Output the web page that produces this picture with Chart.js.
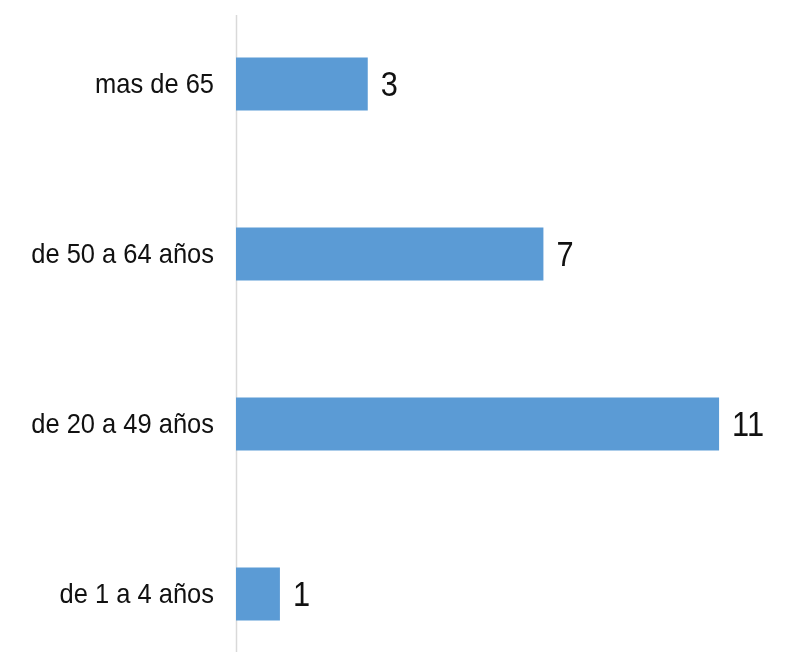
<!DOCTYPE html>
<html>
<head>
<meta charset="utf-8">
<script src="https://cdn.jsdelivr.net/npm/chart.js@4/dist/chart.umd.min.js"></script>
<style>
html,body{margin:0;padding:0;background:#fff;overflow:hidden;width:795px;height:652px;}
#c{position:absolute;left:0;top:-1px;}
</style>
</head>
<body>
<canvas id="c" width="795" height="680"></canvas>
<script>
const categories = ["mas de 65", "de 50 a 64 años", "de 20 a 49 años", "de 1 a 4 años"];
const values = [3, 7, 11, 1];
const axisMax = 12;

const FONT = "'Liberation Sans', Arial, sans-serif";
const SQUEEZE = 0.91;

const axisLine = {
  id: 'axisLine',
  beforeDatasetsDraw(chart) {
    const ctx = chart.ctx;
    const x = Math.round(chart.scales.x.getPixelForValue(0)) + 0.5;
    ctx.save();
    ctx.strokeStyle = '#d9d9d9';
    ctx.lineWidth = 1.5;
    ctx.beginPath();
    ctx.moveTo(x, 16);
    ctx.lineTo(x, chart.height);
    ctx.stroke();
    ctx.restore();
  }
};

const narrowText = {
  id: 'narrowText',
  afterDatasetsDraw(chart) {
    const ctx = chart.ctx;
    const ys = chart.scales.y;
    const meta = chart.getDatasetMeta(0);
    ctx.save();
    ctx.fillStyle = '#111111';
    ctx.textBaseline = 'middle';
    // category labels
    ctx.font = "28px " + FONT;
    ctx.textAlign = 'right';
    categories.forEach((lab, i) => {
      const y = ys.getPixelForValue(i);
      ctx.save();
      ctx.translate(ys.right - 22, y + 1);
      ctx.scale(SQUEEZE, 1);
      ctx.fillText(lab, 0, 0);
      ctx.restore();
    });
    // value labels
    ctx.font = "35px " + FONT;
    ctx.textAlign = 'left';
    meta.data.forEach((el, i) => {
      ctx.save();
      ctx.translate(el.x + 13, el.y + 2);
      ctx.scale(0.88, 1);
      ctx.fillText(String(values[i]), 0, 0);
      ctx.restore();
    });
    ctx.restore();
  }
};

new Chart(document.getElementById('c'), {
  type: 'bar',
  data: {
    labels: categories,
    datasets: [{
      data: values,
      backgroundColor: '#5b9bd5',
      borderWidth: 0,
      categoryPercentage: 1,
      barPercentage: 0.312
    }]
  },
  options: {
    indexAxis: 'y',
    responsive: false,
    animation: false,
    layout: { padding: { left: 0, right: 32, top: 0, bottom: 0 } },
    plugins: { legend: { display: false }, tooltip: { enabled: false } },
    scales: {
      x: {
        display: false,
        min: 0,
        max: axisMax
      },
      y: {
        grid: { display: false, drawTicks: false },
        border: { display: false },
        ticks: { display: false },
        afterFit(scale) {
          scale.width = 236;
          scale.paddingTop = 0;
          scale.paddingBottom = 0;
        }
      }
    }
  },
  plugins: [axisLine, narrowText]
});
</script>
</body>
</html>
